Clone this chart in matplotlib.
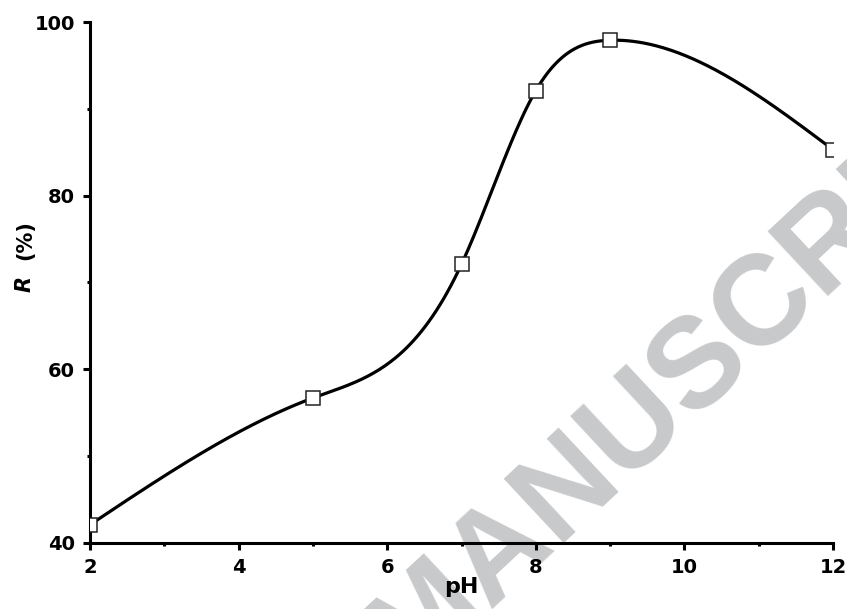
import numpy as np
import matplotlib
matplotlib.use('Agg')
import matplotlib.pyplot as plt
from matplotlib.ticker import MultipleLocator

ph = [2, 5, 7, 8, 9, 12]
removal = [42.1, 56.7, 72.1, 92.1, 97.9, 85.3]


def natural_spline(x, y, xs):
    """Natural cubic spline through the points (like Origin's spline connect)"""
    x = np.asarray(x, float)
    y = np.asarray(y, float)
    n = len(x)
    h = np.diff(x)
    A = np.zeros((n, n))
    b = np.zeros(n)
    A[0, 0] = A[-1, -1] = 1
    for i in range(1, n - 1):
        A[i, i - 1] = h[i - 1]
        A[i, i] = 2 * (h[i - 1] + h[i])
        A[i, i + 1] = h[i]
        b[i] = 3 * ((y[i + 1] - y[i]) / h[i] - (y[i] - y[i - 1]) / h[i - 1])
    c = np.linalg.solve(A, b)
    out = np.empty_like(xs)
    for k, xv in enumerate(xs):
        i = min(np.searchsorted(x, xv, side='right') - 1, n - 2)
        i = max(i, 0)
        dx = xv - x[i]
        bi = (y[i + 1] - y[i]) / h[i] - h[i] * (2 * c[i] + c[i + 1]) / 3
        di = (c[i + 1] - c[i]) / (3 * h[i])
        out[k] = y[i] + bi * dx + c[i] * dx ** 2 + di * dx ** 3
    return out


plt.rcParams['font.family'] = 'DejaVu Sans'
plt.rcParams['font.weight'] = 'bold'

fig = plt.figure(figsize=(8.47, 6.09), dpi=100)
ax = fig.add_axes([90 / 847, 66 / 609, 743 / 847, 521 / 609])
ax.set_facecolor('none')

# watermark behind the plot
fig.text(0.51, -0.02, 'ACCEPTED MANUSCRIPT', fontsize=92, fontweight='bold',
         family='Liberation Sans', color='#c8c9cb', rotation=43,
         ha='center', va='center', zorder=-5, rotation_mode='anchor')

xs = np.linspace(min(ph), max(ph), 400)
ax.plot(xs, natural_spline(ph, removal, xs), color='black', lw=2.3, zorder=2)
ax.plot(ph, removal, ls='none', marker='s', ms=10.5, mfc='white', mec='#222222', mew=1.1, zorder=3)

ax.set_xlim(2, 12)
ax.set_ylim(40, 100)
ax.xaxis.set_major_locator(MultipleLocator(2))
ax.xaxis.set_minor_locator(MultipleLocator(1))
ax.yaxis.set_major_locator(MultipleLocator(20))
ax.yaxis.set_minor_locator(MultipleLocator(10))

for side in ['top', 'right']:
    ax.spines[side].set_visible(False)
for side in ['left', 'bottom']:
    ax.spines[side].set_linewidth(2.2)

ax.tick_params(which='major', direction='out', length=5, width=2.2, labelsize=14, pad=6)
ax.tick_params(which='minor', direction='out', length=2.5, width=2.2)
for lab in ax.get_xticklabels() + ax.get_yticklabels():
    lab.set_fontweight('bold')

ax.set_xlabel('pH', fontsize=16, fontweight='bold', labelpad=0)
fig.text(25 / 847, 1 - 284 / 609, 'R', fontsize=15, fontweight='bold', style='italic',
         rotation=90, ha='center', va='center')
fig.text(25 / 847, 1 - 240 / 609, '(%)', fontsize=15, fontweight='bold',
         rotation=90, ha='center', va='center')

fig.savefig('out.png', dpi=100)
